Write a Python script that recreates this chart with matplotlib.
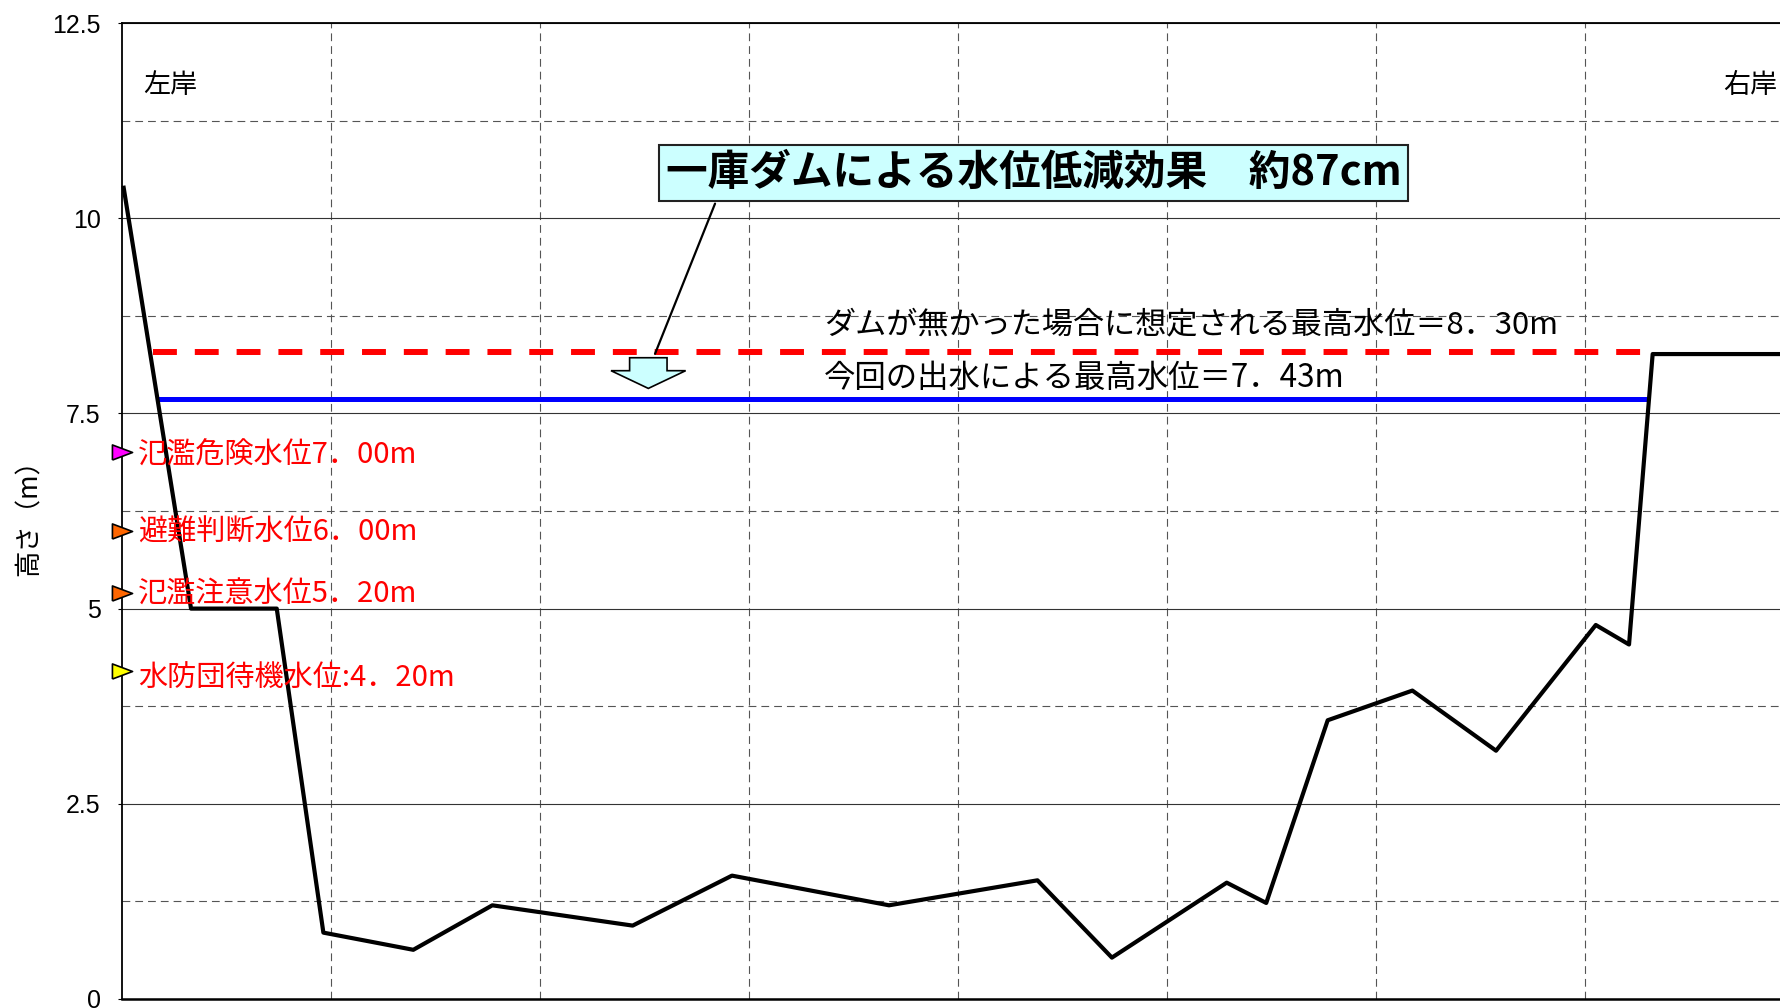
import numpy as np
import matplotlib
matplotlib.use('Agg')
import matplotlib.pyplot as plt

plt.rcParams['font.family'] = ['Noto Sans CJK JP', 'DejaVu Sans']

# 横断面（地盤高）
ground_x = [0.1, 3.32, 7.42, 9.65, 13.95, 17.73, 24.44, 29.19, 36.70, 43.80,
            47.36, 52.85, 54.74, 57.68, 61.73, 65.73, 70.50, 72.09, 73.22, 80.0]
ground_y = [10.39, 5.0, 5.0, 0.85, 0.63, 1.20, 0.94, 1.58, 1.20, 1.52,
            0.53, 1.49, 1.23, 3.57, 3.95, 3.18, 4.79, 4.54, 8.26, 8.26]

# 水位線
no_dam_x = [1.52, 73.0]
no_dam_level = 8.28
actual_x = [1.76, 72.96]
actual_level = 7.69

# 基準水位
warn_levels = [7.00, 6.00, 5.20, 4.20]
warn_labels = ['氾濫危険水位7．00m', '避難判断水位6．00m',
               '氾濫注意水位5．20m', '水防団待機水位:4．20m']
warn_colors = ['#ff00ff', '#ff6600', '#ff6600', '#ffff00']
label_shift = [-0.04, -0.03, -0.02, -0.09]

yticks = [0, 2.5, 5, 7.5, 10, 12.5]
yticklabels = ['0', '2.5', '5', '7.5', '10', '12.5']

fig = plt.figure(figsize=(17.8, 10.08), dpi=100)
ax = fig.add_axes([0.06831, 0.00893, 0.9398, 0.96825])
ax.set_xlim(0, 80)
ax.set_ylim(0, 12.5)

# grid
ax.set_yticks(yticks)
ax.set_yticklabels(yticklabels, fontsize=18, family=['Liberation Sans', 'DejaVu Sans'])
ax.set_yticks(np.arange(1.25, 12.5, 2.5), minor=True)
ax.set_xticks(np.arange(10, 80, 10))
ax.set_xticklabels([])
ax.tick_params(axis='x', length=0)
ax.tick_params(axis='y', which='major', length=3, pad=12)
ax.tick_params(axis='y', which='minor', length=0)
ax.grid(axis='y', which='major', color='#333333', lw=0.8, ls='-')
ax.grid(axis='y', which='minor', color='#555555', lw=0.8, ls=(0, (7, 4.5)))
ax.grid(axis='x', which='major', color='#555555', lw=0.8, ls=(0, (7, 4.5)))
ax.set_axisbelow(True)
for s in ['top', 'left']:
    ax.spines[s].set_linewidth(1.3)
ax.spines['bottom'].set_linewidth(1.8)
ax.spines['right'].set_visible(False)

# water levels
ax.plot(no_dam_x, [no_dam_level] * 2, color='#ff0000', lw=4.3, ls=(0, (4.0, 3.0)),
        solid_capstyle='butt', dash_capstyle='butt', zorder=3)
ax.plot(actual_x, [actual_level] * 2, color='#0000ff', lw=3.6, zorder=3,
        solid_capstyle='butt')

# ground
ax.plot(ground_x, ground_y, color='black', lw=3.0, zorder=4, clip_on=False)

# warning markers and labels
tri = [(-1, -0.75), (1, 0), (-1, 0.75), (-1, -0.75)]
for lv, lab, c, dy in zip(warn_levels, warn_labels, warn_colors, label_shift):
    ax.plot([0], [lv], marker=tri, ms=14.5, mfc=c, mec='black', mew=1.2,
            clip_on=False, zorder=6, ls='none')
    ax.text(0.78, lv + dy, lab, color='#ff0000', fontsize=21, va='center', ha='left', zorder=5)

ax.text(1.03, 11.7, '左岸', fontsize=19.5, va='center', ha='left')
ax.text(79.2, 11.7, '右岸', fontsize=19.5, va='center', ha='right')

ax.text(33.59, 8.63, 'ダムが無かった場合に想定される最高水位＝8．30m',
        fontsize=22.4, va='center', ha='left')
ax.text(33.59, 7.96, '今回の出水による最高水位＝7．43m',
        fontsize=22.6, va='center', ha='left')

# effect annotation
ax.text(43.61, 10.574, '一庫ダムによる水位低減効果　約87cm', fontsize=30,
        fontweight='bold', ha='center', va='center', zorder=7,
        bbox=dict(boxstyle='square,pad=0.17', fc='#ccffff', ec='#222222', lw=1.5))
ax.annotate('', xy=(25.46, 8.23), xytext=(28.43, 10.22),
            arrowprops=dict(arrowstyle='-', lw=1.6, color='black'), zorder=6)
ax.arrow(25.19, 8.213, 0, -0.393, width=1.79, head_width=3.57, head_length=0.227,
         length_includes_head=True, fc='#ccffff', ec='black', lw=1.2, zorder=6)

ax.set_ylabel('高さ（m）', fontsize=19)
ax.yaxis.set_label_coords(-0.047, 0.5)

fig.savefig('out.png', dpi=100)
